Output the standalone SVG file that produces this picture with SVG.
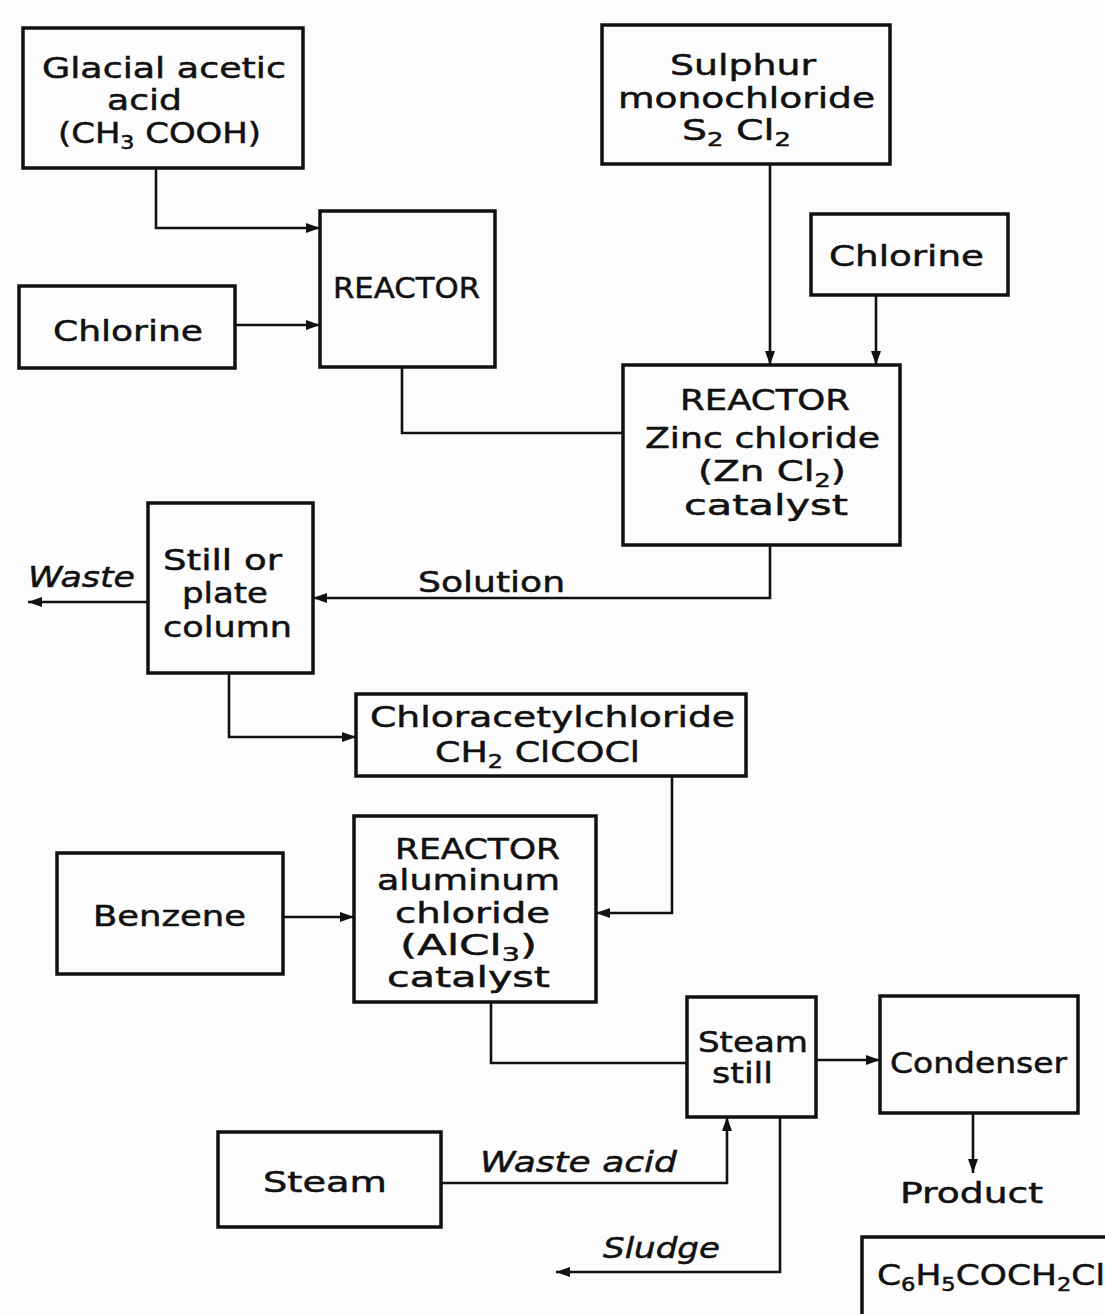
<svg xmlns="http://www.w3.org/2000/svg" width="1105" height="1314" viewBox="0 0 1105 1314">
<style>
.box{fill:none;stroke:#111;stroke-width:3.5}
.ln{fill:none;stroke:#111;stroke-width:2.6}
.arr{marker-end:url(#ah)}
text{font-family:"DejaVu Sans","Liberation Sans",sans-serif;font-size:29px;fill:#111;stroke:#111;stroke-width:0.5}
.it{font-style:italic}
.sub{font-size:19px}
</style>
<defs>
<marker id="ah" markerUnits="userSpaceOnUse" markerWidth="15" markerHeight="11" refX="14" refY="5.5" orient="auto">
<path d="M0,0.5 L14,5.5 L0,10.5 z" fill="#111"/>
</marker>
</defs>
<rect x="0" y="0" width="1105" height="1314" fill="#fcfcfc"/>

<g id="connectors">
<path class="ln arr" d="M156,168 V228 H320"/>
<path class="ln arr" d="M235,325 H320"/>
<path class="ln" d="M402,367 V433 H623"/>
<path class="ln arr" d="M770,164 V365"/>
<path class="ln arr" d="M876,295 V365"/>
<path class="ln arr" d="M770,545 V598 H313"/>
<path class="ln arr" d="M148,602 H28"/>
<path class="ln arr" d="M229,673 V737 H356"/>
<path class="ln arr" d="M672,776 V913 H596"/>
<path class="ln arr" d="M283,917 H354"/>
<path class="ln" d="M491,1002 V1063 H687"/>
<path class="ln arr" d="M441,1183 H727 V1117"/>
<path class="ln arr" d="M780,1117 V1272 H556"/>
<path class="ln arr" d="M816,1060 H880"/>
<path class="ln arr" d="M973,1113 V1173"/>
<text x="28" y="587" class="it" textLength="107" lengthAdjust="spacingAndGlyphs">Waste</text>
<text x="418" y="592" textLength="147" lengthAdjust="spacingAndGlyphs">Solution</text>
<text x="480" y="1172" class="it" textLength="197" lengthAdjust="spacingAndGlyphs">Waste acid</text>
<text x="603" y="1258" class="it" textLength="117" lengthAdjust="spacingAndGlyphs">Sludge</text>
<text x="900" y="1203" textLength="143" lengthAdjust="spacingAndGlyphs">Product</text>
</g>

<g id="glacial">
<rect class="box" x="23" y="28" width="280" height="140"/>
<text x="42" y="78" textLength="244" lengthAdjust="spacingAndGlyphs">Glacial acetic</text>
<text x="107" y="110" textLength="75" lengthAdjust="spacingAndGlyphs">acid</text>
<text x="58" y="143" textLength="203" lengthAdjust="spacingAndGlyphs">(CH<tspan class="sub" dy="6">3</tspan><tspan dy="-6"> COOH)</tspan></text>
</g>

<g id="reactor1">
<rect class="box" x="320" y="211" width="175" height="156"/>
<text x="333" y="298" textLength="147" lengthAdjust="spacingAndGlyphs">REACTOR</text>
</g>

<g id="chlorine1">
<rect class="box" x="19" y="286" width="216" height="82"/>
<text x="53" y="341" textLength="150" lengthAdjust="spacingAndGlyphs">Chlorine</text>
</g>

<g id="sulphur">
<rect class="box" x="602" y="25" width="288" height="139"/>
<text x="670" y="75" textLength="146" lengthAdjust="spacingAndGlyphs">Sulphur</text>
<text x="618" y="108" textLength="257" lengthAdjust="spacingAndGlyphs">monochloride</text>
<text x="682" y="140" textLength="109" lengthAdjust="spacingAndGlyphs">S<tspan class="sub" dy="6">2</tspan><tspan dy="-6"> Cl</tspan><tspan class="sub" dy="6">2</tspan></text>
</g>

<g id="chlorine2">
<rect class="box" x="811" y="214" width="197" height="81"/>
<text x="829" y="266" textLength="155" lengthAdjust="spacingAndGlyphs">Chlorine</text>
</g>

<g id="reactor2">
<rect class="box" x="623" y="365" width="277" height="180"/>
<text x="680" y="410" textLength="170" lengthAdjust="spacingAndGlyphs">REACTOR</text>
<text x="645" y="448" textLength="235" lengthAdjust="spacingAndGlyphs">Zinc chloride</text>
<text x="698" y="481" textLength="148" lengthAdjust="spacingAndGlyphs">(Zn Cl<tspan class="sub" dy="6">2</tspan><tspan dy="-6">)</tspan></text>
<text x="684" y="515" textLength="164" lengthAdjust="spacingAndGlyphs">catalyst</text>
</g>

<g id="still">
<rect class="box" x="148" y="503" width="165" height="170"/>
<text x="163" y="570" textLength="119" lengthAdjust="spacingAndGlyphs">Still or</text>
<text x="182" y="603" textLength="86" lengthAdjust="spacingAndGlyphs">plate</text>
<text x="163" y="637" textLength="129" lengthAdjust="spacingAndGlyphs">column</text>
</g>

<g id="chloracetyl">
<rect class="box" x="356" y="694" width="390" height="82"/>
<text x="370" y="727" textLength="365" lengthAdjust="spacingAndGlyphs">Chloracetylchloride</text>
<text x="435" y="762" textLength="205" lengthAdjust="spacingAndGlyphs">CH<tspan class="sub" dy="6">2</tspan><tspan dy="-6"> ClCOCl</tspan></text>
</g>

<g id="benzene">
<rect class="box" x="57" y="853" width="226" height="121"/>
<text x="93" y="926" textLength="153" lengthAdjust="spacingAndGlyphs">Benzene</text>
</g>

<g id="reactor3">
<rect class="box" x="354" y="816" width="242" height="186"/>
<text x="395" y="859" textLength="165" lengthAdjust="spacingAndGlyphs">REACTOR</text>
<text x="377" y="890" textLength="183" lengthAdjust="spacingAndGlyphs">aluminum</text>
<text x="395" y="923" textLength="155" lengthAdjust="spacingAndGlyphs">chloride</text>
<text x="400" y="955" textLength="137" lengthAdjust="spacingAndGlyphs">(AlCl<tspan class="sub" dy="6">3</tspan><tspan dy="-6">)</tspan></text>
<text x="387" y="987" textLength="163" lengthAdjust="spacingAndGlyphs">catalyst</text>
</g>

<g id="steamstill">
<rect class="box" x="687" y="997" width="129" height="120"/>
<text x="698" y="1052" textLength="110" lengthAdjust="spacingAndGlyphs">Steam</text>
<text x="712" y="1083" textLength="61" lengthAdjust="spacingAndGlyphs">still</text>
</g>

<g id="condenser">
<rect class="box" x="880" y="996" width="198" height="117"/>
<text x="890" y="1073" textLength="177" lengthAdjust="spacingAndGlyphs">Condenser</text>
</g>

<g id="steam">
<rect class="box" x="218" y="1132" width="223" height="95"/>
<text x="263" y="1192" textLength="124" lengthAdjust="spacingAndGlyphs">Steam</text>
</g>

<g id="product">
<rect class="box" x="862" y="1237" width="260" height="100"/>
<text x="877" y="1285" textLength="228" lengthAdjust="spacingAndGlyphs">C<tspan class="sub" dy="6">6</tspan><tspan dy="-6">H</tspan><tspan class="sub" dy="6">5</tspan><tspan dy="-6">COCH</tspan><tspan class="sub" dy="6">2</tspan><tspan dy="-6">Cl</tspan></text>
</g>
</svg>
